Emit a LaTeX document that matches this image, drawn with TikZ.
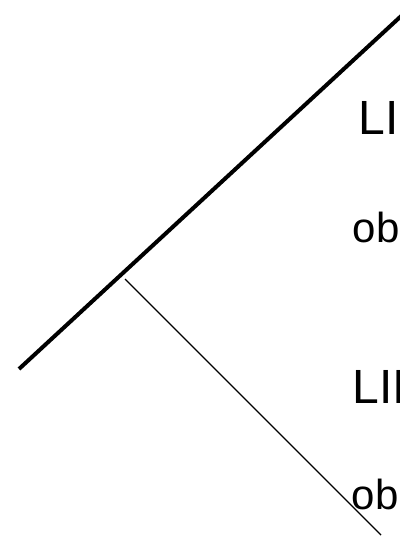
\documentclass[tikz,border=0pt]{standalone}
\usepackage{fontspec}
\setmainfont{Liberation Sans}
\begin{document}
\begin{tikzpicture}[x=1pt,y=-1pt,
  biglabel/.style={anchor=base west,inner sep=0pt,font=\fontsize{48}{56}\selectfont},
  smalllabel/.style={anchor=base west,inner sep=0pt,font=\fontsize{42}{50}\selectfont},
  thickline/.style={line width=4pt},
  thinline/.style={line width=1.4pt}]
\useasboundingbox[fill=white] (0,0) rectangle (399,538);
\coordinate (a) at (19,369);
\coordinate (b) at (412,6);
\coordinate (c) at (125,279);
\coordinate (d) at (381,535);
\draw[thickline] (a) -- (b);
\draw[thinline] (c) -- (d);
\node[biglabel] (l1) at (358.5,134) {LI};
\node[smalllabel] (o1) at (352.5,242) {ob};
\node[biglabel] (l2) at (352.5,403) {LII};
\node[smalllabel] (o2) at (351.5,509) {ob};
\end{tikzpicture}
\end{document}
